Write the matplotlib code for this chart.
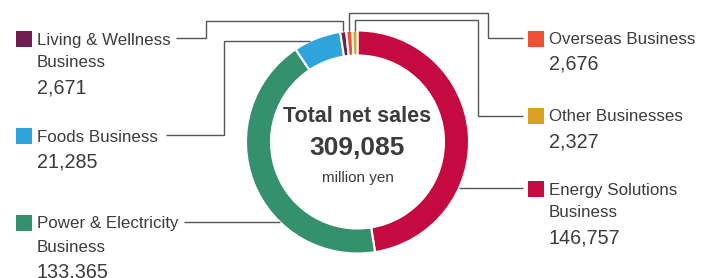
import numpy as np
import matplotlib
matplotlib.use("Agg")
import matplotlib.pyplot as plt
from matplotlib.patches import Rectangle

plt.rcParams["font.family"] = ["Liberation Sans", "DejaVu Sans"]

# Donnees (millions de yens), ordre horaire depuis midi
segments = ["Energy Solutions\nBusiness", "Power & Electricity\nBusiness",
            "Foods Business", "Living & Wellness\nBusiness",
            "Overseas Business", "Other Businesses"]
valeurs = [146757, 133365, 21285, 2671, 2676, 2327]
couleurs = ["#c40a40", "#35906e", "#2ea3dc", "#6f1f4f", "#ee5031", "#dca124"]
total_label = "309,085"

W, H = 706, 278
fig = plt.figure(figsize=(W / 100, H / 100), dpi=100)
ax = fig.add_axes([0, 0, 1, 1])


def Y(p):
    """pixel (haut->bas) vers coordonnee donnees"""
    return H - p


CX, CY, R, EP = 357.5, 142, 111.5, 25
TXT = "#3c3c3c"
LIGNE = "#555555"

wedges, _ = ax.pie(valeurs, colors=couleurs, startangle=90, counterclock=False,
                   center=(CX, Y(CY)), radius=R, frame=True,
                   wedgeprops=dict(width=EP, edgecolor="white", linewidth=1.5))
ax.set_xlim(0, W)
ax.set_ylim(0, H)
ax.set_aspect("equal")
ax.axis("off")


def x_milieu(w):
    a = np.deg2rad((w.theta1 + w.theta2) / 2)
    return CX + R * np.cos(a)


def y_bord(x):
    """haut de l'anneau (pixels) pour une abscisse"""
    return CY - np.sqrt(R ** 2 - (x - CX) ** 2)


def x_bord(yp, cote):
    return CX + cote * np.sqrt(R ** 2 - (yp - CY) ** 2)


def tracer(pts):
    xs, ys = zip(*pts)
    ax.plot(xs, [Y(v) for v in ys], color=LIGNE, lw=1.0, solid_capstyle="butt",
            solid_joinstyle="miter")


# Lignes de rappel
xl = x_milieu(wedges[3])
tracer([(176, 38), (206, 38), (206, 21), (xl, 21), (xl, y_bord(xl))])
tracer([(166, 134.5), (224, 134.5), (224, 41), (x_bord(41, -1), 41)])
tracer([(184, 222), (x_bord(222, -1), 222)])
xo = x_milieu(wedges[4])
tracer([(xo, y_bord(xo)), (xo, 13), (488, 13), (488, 38), (523, 38)])
xa = x_milieu(wedges[5])
tracer([(xa, y_bord(xa)), (xa, 20), (478, 20), (478, 115.5), (523, 115.5)])
tracer([(x_bord(188, 1), 188), (523, 188)])

# Etiquettes : (indice, x carre, x texte, haut carre, lignes de base texte, base valeur)
etiquettes = [
    (3, 16, 37, 31, [45, 67], 93),
    (2, 16, 37, 128, [142], 167),
    (1, 16, 37, 215, [228, 252], 277),
    (4, 528, 549, 31, [44], 70),
    (5, 528, 549, 108, [121], 147),
    (0, 528, 549, 181, [195, 217], 243),
]
for i, xc, xt, yc, bases, bv in etiquettes:
    ax.add_patch(Rectangle((xc, Y(yc + 16)), 16, 16, color=couleurs[i], lw=0))
    for ligne, b in zip(segments[i].split("\n"), bases):
        ax.text(xt, Y(b), ligne, fontsize=12.2, color=TXT, ha="left", va="baseline")
    ax.text(xt, Y(bv), f"{valeurs[i]:,}", fontsize=14.2, color=TXT,
            ha="left", va="baseline")

# Texte central
ax.text(CX, Y(122), "Total net sales", fontsize=15.5, fontweight="bold",
        color=TXT, ha="center", va="baseline")
ax.text(CX, Y(155), total_label, fontsize=19, fontweight="bold",
        color=TXT, ha="center", va="baseline")
ax.text(CX, Y(182), "million yen", fontsize=11, color=TXT,
        ha="center", va="baseline")

fig.savefig("out.png", dpi=100, facecolor="white")
